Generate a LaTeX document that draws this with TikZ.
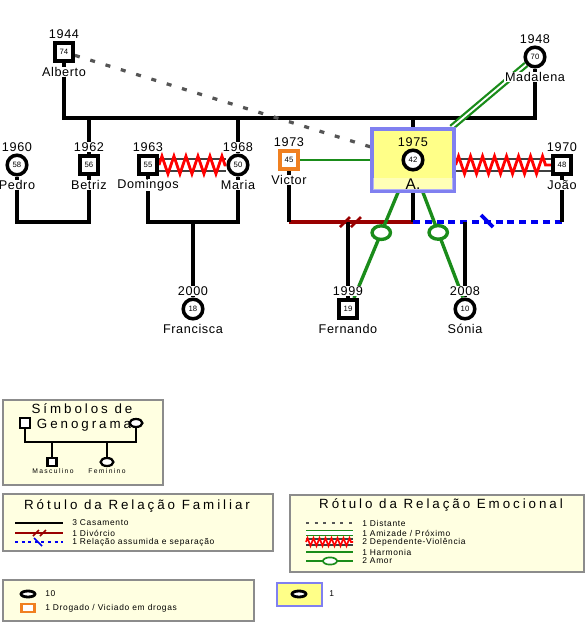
\documentclass[tikz,border=0pt]{standalone}
\usepackage{fontspec}
\setmainfont{Liberation Sans}
\usetikzlibrary{backgrounds,calc,decorations.pathmorphing,shapes.geometric}

\definecolor{legendcream}{HTML}{FFFFE1}
\definecolor{legendgray}{HTML}{8C8C8C}
\definecolor{selfyellow}{HTML}{FFFF88}
\definecolor{selfblue}{HTML}{8080F0}
\definecolor{drugorange}{HTML}{F08020}
\definecolor{lovegreen}{HTML}{1A8C1A}
\definecolor{divred}{HTML}{990000}
\definecolor{sepblue}{HTML}{0000F0}
\definecolor{distgray}{HTML}{555555}

\tikzset{
  male/.style={draw, line width=2.5pt, fill=white, minimum size=4.6mm, inner sep=0pt,
    font=\fontsize{5.5}{6}\selectfont},
  female/.style={male, circle, minimum size=4.9mm},
  drug/.style={male, draw=drugorange},
  yeartext/.style={fill=white, inner sep=0.4pt,
    font=\fontsize{9}{10}\selectfont\addfontfeature{LetterSpace=5}},
  nametext/.style={yeartext},
  selfbox/.style={draw=selfblue, fill=selfyellow, line width=2.2pt,
    minimum width=20.5mm, minimum height=15.5mm},
  selfname/.style={fill=white, fill opacity=0.4, text opacity=1, inner sep=0.5pt,
    minimum width=20mm, font=\fontsize{11}{12}\selectfont},
  famline/.style={line width=2.6pt},
  divline/.style={draw=divred, line width=2.6pt},
  sepline/.style={draw=sepblue, line width=2.6pt, dash pattern=on 1.75mm off 1.2mm},
  distant/.style={draw=distgray, line width=2.3pt, dash pattern=on 1.25mm off 2.75mm},
  closeline/.style={draw=lovegreen, line width=1.6pt, double=white, double distance=1.3pt},
  harmony/.style={draw=lovegreen, line width=2pt},
  love/.style={draw=lovegreen, line width=2.4pt},
  lovering/.style={ellipse, draw=lovegreen, fill=white, line width=2.4pt,
    minimum width=4.6mm, minimum height=3.4mm, inner sep=0pt},
  violentpair/.style={draw=black!75, line width=1.6pt, double=white, double distance=2.6mm},
  violent/.style={draw=red, line width=2pt, decorate,
    decoration={zigzag, segment length=3mm, amplitude=2.2mm}},
  legbox/.style={draw=legendgray, fill=legendcream, line width=1pt},
  legtitle/.style={inner sep=0pt, font=\fontsize{9.5}{10}\selectfont\addfontfeature{LetterSpace=22}},
  legtext/.style={anchor=west, inner sep=0pt,
    font=\fontsize{6}{7}\selectfont\addfontfeature{LetterSpace=8}},
  tinytext/.style={inner sep=0pt, font=\fontsize{4.8}{5}\selectfont\addfontfeature{LetterSpace=20}},
  minimale/.style={draw, fill=white, line width=1.6pt, minimum width=2.6mm,
    minimum height=2.4mm, inner sep=0pt},
  minifemale/.style={minimale, ellipse, minimum width=3.2mm, minimum height=2mm},
}

\begin{document}
\begin{tikzpicture}[x=0.25mm, y=-0.25mm]
  \useasboundingbox (0,0) rectangle (586,638);

  % people of the genogram
  \foreach \who/\shp/\px/\py/\age/\born/\called in {
      alberto/male/64/52/74/1944/Alberto,
      madalena/female/535/57/70/1948/Madalena,
      pedro/female/17/165/58/1960/Pedro,
      betriz/male/89/165/56/1962/Betriz,
      domingos/male/148/165/55/1963/Domingos,
      maria/female/238/165/50/1968/Maria,
      victor/drug/289/160/45/1973/Victor,
      joao/male/562/165/48/1970/João,
      francisca/female/193/309/18/2000/Francisca,
      fernando/male/348/309/19/1999/Fernando,
      sonia/female/465/309/10/2008/Sónia}{
    \node[\shp] (\who) at (\px,\py) {\age};
    \node[yeartext] (\who-year) at (\px,\py-18) {\born};
    \node[nametext] (\who-name) at (\px,\py+20) {\called};
  }

  % index person
  \node[selfbox] (abox) at (413,160) {};
  \node[female] (aself) at (413,160) {42};
  \node[yeartext, fill=none] (aself-year) at (413,142) {1975};
  \node[selfname] (aself-name) at (413,184) {A.};

  \begin{scope}[on background layer]
    \coordinate (sib) at (300,118);
    \coordinate (marbase) at (300,222);
    % family lines
    \draw[famline] (alberto) -- (alberto |- sib) -- (madalena |- sib) -- (madalena);
    \draw[famline] (betriz) -- (betriz |- sib);
    \draw[famline] (maria) -- (maria |- sib);
    \draw[famline] (abox) -- (abox |- sib);
    \draw[famline] (pedro) -- (pedro |- marbase) -- (betriz |- marbase) -- (betriz);
    \draw[famline] (domingos) -- (domingos |- marbase) -- (maria |- marbase) -- (maria);
    \draw[famline] (francisca) -- (francisca |- marbase);
    \draw[divline] (victor |- marbase) -- (abox |- marbase);
    \draw[famline] (victor) -- (victor |- marbase);
    \draw[famline] (abox) -- (abox |- marbase);
    \draw[famline] (fernando) -- (fernando |- marbase);
    \draw[sepline] (abox |- marbase) -- (joao |- marbase);
    \draw[famline] (joao) -- (joao |- marbase);
    \draw[famline] (sonia) -- (sonia |- marbase);
    \coordinate (divmark) at (352,222);
    \draw[divline, line width=2pt] ($(divmark)+(-12,5)$) -- ++(10,-10)
      ($(divmark)+(-1,5)$) -- ++(10,-10);
    \coordinate (sepmark) at (487,221);
    \draw[sepline, solid] ($(sepmark)+(-6,-6)$) -- ($(sepmark)+(6,6)$);
    % emotional lines
    \draw[distant] (alberto) -- (abox);
    \draw[closeline] (madalena) -- (abox);
    \draw[harmony] (victor) -- (abox);
    \draw[violentpair] (domingos) -- (maria);
    \draw[violent] (domingos) -- (maria);
    \draw[violentpair] (abox.east |- joao) -- (joao);
    \draw[violent] (abox.east |- joao) -- (joao);
    \draw[love] ($(abox.south)+(-15,0)$) -- ($(fernando.north)+(6,0)$)
      node[lovering, pos=0.38] (fernring) {};
    \draw[love] ($(abox.south)+(10,0)$) -- ($(sonia.north)+(-2,0)$)
      node[lovering, pos=0.38] (soniaring) {};
  \end{scope}

  % legend: symbols
  \draw[legbox] (3,400) rectangle (163,485);
  \node[legtitle, font=\fontsize{9.5}{10}\selectfont\addfontfeature{LetterSpace=22}] (symtitle) at (82,409) {Símbolos de};
  \node[legtitle, font=\fontsize{9.5}{10}\selectfont\addfontfeature{LetterSpace=22}] (symtitle2) at (84,425) {Genograma};
  \node[minimale] (symdad) at (25,423) {};
  \node[minifemale] (symmom) at (136,423) {};
  \node[minimale, minimum width=2.2mm, minimum height=2mm] (symson) at (52,462) {};
  \node[minifemale] (symdaughter) at (107,462) {};
  \coordinate (symbar) at (80,442);
  \draw[line width=1.6pt] (symdad) -- (symdad |- symbar) -- (symmom |- symbar) -- (symmom);
  \draw[line width=1.6pt] (symson) -- (symson |- symbar);
  \draw[line width=1.6pt] (symdaughter) -- (symdaughter |- symbar);
  \node[tinytext] (symmale) at (53,471) {Masculino};
  \node[tinytext] (symfemale) at (107,471) {Feminino};

  % legend: family relations
  \draw[legbox] (3,494) rectangle (273,551);
  \node[legtitle] (famtitle) at (137,506) {Rótulo da Relação Familiar};
  \draw[line width=1.2pt] (15,523) -- (63,523);
  \node[legtext] (famtext1) at (72,523) {3 Casamento};
  \draw[divred, line width=1.2pt] (15,533) -- (63,533);
  \draw[divred, line width=1.2pt] (33,536) -- ++(6,-6) (40,536) -- ++(6,-6);
  \node[legtext] (famtext2) at (72,533) {1 Divórcio};
  \draw[sepblue, line width=1.2pt, dash pattern=on 0.75mm off 0.9mm] (15,542) -- (63,542);
  \draw[sepblue, line width=1.2pt] (34,538) -- (42,546);
  \node[legtext] (famtext3) at (72,542) {1 Relação assumida e separação};

  % legend: emotional relations
  \draw[legbox] (290,495) rectangle (584,572);
  \node[legtitle] (emotitle) at (441,505) {Rótulo da Relação Emocional};
  \draw[distgray, line width=1.1pt, dash pattern=on 0.75mm off 1.4mm] (306,523) -- (353,523);
  \node[legtext] (emotext1) at (362,523) {1 Distante};
  \draw[lovegreen, line width=1.2pt, double=white, double distance=0.8mm] (306,533) -- (353,533);
  \node[legtext] (emotext2) at (362,533) {1 Amizade / Próximo};
  \draw[black!75, line width=1pt, double=white, double distance=1.2mm] (306,542) -- (353,542);
  \draw[violent, line width=1.2pt, decoration={zigzag, segment length=1.5mm, amplitude=1mm}]
    (306,542) -- (353,542);
  \node[legtext] (emotext3) at (362,542) {2 Dependente-Violência};
  \draw[lovegreen, line width=1.3pt] (306,552) -- (353,552);
  \node[legtext] (emotext4) at (362,552) {1 Harmonia};
  \draw[lovegreen, line width=1.3pt] (306,561) -- (353,561);
  \node[lovering, line width=1.2pt, minimum width=3.5mm, minimum height=1.8mm] (emoring) at (330,561) {};
  \node[legtext] (emotext5) at (362,561) {2 Amor};

  % legend: counts
  \draw[legbox] (3,580) rectangle (254,621);
  \node[ellipse, draw, fill=white, line width=2pt, minimum width=3.5mm, minimum height=1.5mm,
    inner sep=0pt] (cntfemale) at (28,594) {};
  \node[legtext] (cnttext1) at (45,594) {10};
  \node[draw=drugorange, fill=white, line width=1.6pt, minimum width=3.25mm, minimum height=1.9mm,
    inner sep=0pt] (cntdrug) at (28,608) {};
  \node[legtext] (cnttext2) at (45,608) {1 Drogado / Viciado em drogas};
  \draw[draw=selfblue, fill=selfyellow, line width=1.6pt] (277,583) rectangle (322,606);
  \node[ellipse, draw, fill=white, line width=2pt, minimum width=3.5mm, minimum height=1.5mm,
    inner sep=0pt] (cntself) at (299,594) {};
  \node[legtext] (cnttext3) at (329,594) {1};
\end{tikzpicture}
\end{document}
